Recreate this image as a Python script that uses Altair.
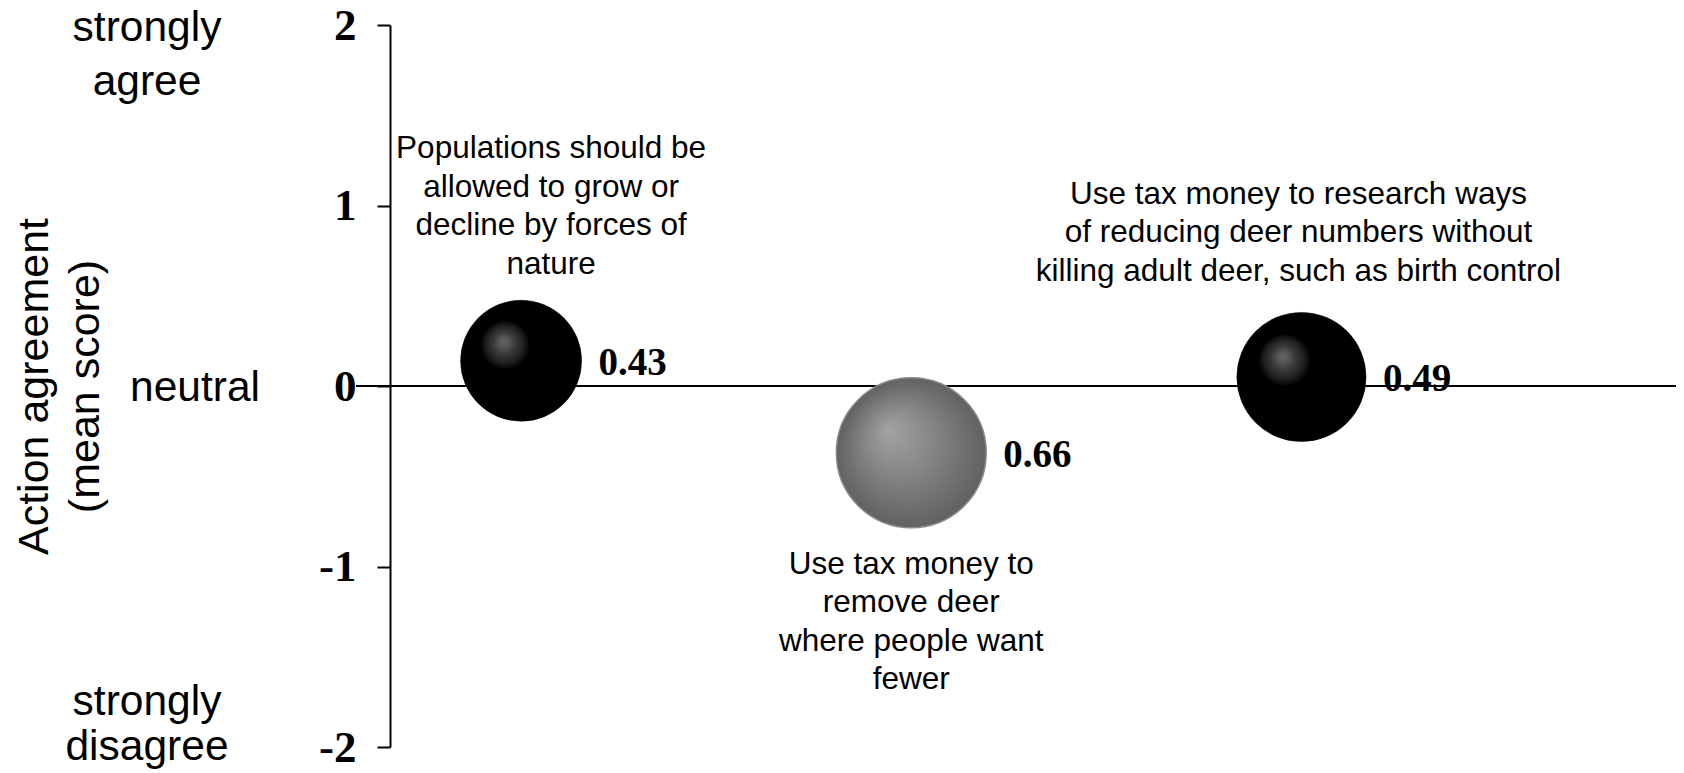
import altair as alt
import pandas as pd

# ---- data ----
actions = [
    "Populations should be\nallowed to grow or\ndecline by forces of\nnature",
    "Use tax money to\nremove deer\nwhere people want\nfewer",
    "Use tax money to research ways\nof reducing deer numbers without\nkilling adult deer, such as birth control",
]
x_order = [1, 2, 3]
mean_score = [0.14, -0.37, 0.05]
bubble_value = [0.43, 0.66, 0.49]
lethal = [False, True, False]

y_ticks = [-2, -1, 0, 1, 2]
scale_top = "strongly\nagree"
scale_mid = "neutral"
scale_bottom = "strongly\ndisagree"
y_title = ["Action agreement", "(mean score)"]

df = pd.DataFrame({
    "action": actions,
    "x": x_order,
    "score": mean_score,
    "bubble": bubble_value,
    "lethal": lethal,
})

W, H = 1286, 722
X_DOMAIN = [0.664, 3.96]
PX_PER_UNIT = W / (X_DOMAIN[1] - X_DOMAIN[0])
SIZE_MAX = 34050  # symbol size for a bubble value of 1 (bubble area proportional to value)

x_scale = alt.Scale(domain=X_DOMAIN, nice=False, zero=False)
y_scale = alt.Scale(domain=[-2, 2], nice=False, zero=False)

y_axis = alt.Axis(
    values=y_ticks,
    labelExpr="'' + datum.value",
    labelFont="Liberation Serif",
    labelFontWeight="bold",
    labelFontSize=45,
    labelColor="black",
    labelPadding=21,
    tickSize=13,
    tickWidth=2,
    tickColor="black",
    domainColor="black",
    domainWidth=2,
    grid=False,
    title=y_title,
    titleFont="Liberation Sans",
    titleFontSize=43,
    titleFontWeight="normal",
    titleColor="black",
    titleLineHeight=51,
    titleAngle=270,
    titleAlign="center",
    titleBaseline="alphabetic",
    titleX=-343,
    titleY=H / 2,
)


def Y(field):
    return alt.Y(field, scale=y_scale, axis=y_axis)


xs = alt.X("x:Q", scale=x_scale, axis=None)
size_enc = alt.Size("bubble:Q", scale=alt.Scale(type="linear", domain=[0, 1], range=[0, SIZE_MAX]), legend=None)

black_grad = {
    "gradient": "radial",
    "x1": 0.355, "y1": 0.34, "r1": 0,
    "x2": 0.37, "y2": 0.37, "r2": 0.2,
    "stops": [
        {"offset": 0, "color": "#646464"},
        {"offset": 0.22, "color": "#555555"},
        {"offset": 0.45, "color": "#3a3a3a"},
        {"offset": 0.75, "color": "#222222"},
        {"offset": 0.95, "color": "#0a0a0a"},
        {"offset": 1, "color": "#000000"},
    ],
}
gray_grad = {
    "gradient": "radial",
    "x1": 0.35, "y1": 0.345, "r1": 0,
    "x2": 0.5, "y2": 0.5, "r2": 0.5,
    "stops": [
        {"offset": 0, "color": "#a3a3a3"},
        {"offset": 0.35, "color": "#8d8d8d"},
        {"offset": 0.7, "color": "#757575"},
        {"offset": 1, "color": "#616161"},
    ],
}

base = alt.Chart(df)

zero_line = alt.Chart(pd.DataFrame({"y0": [0]})).mark_rule(color="black", strokeWidth=2).encode(
    y=Y("y0:Q"),
    x=alt.value(-34),
    x2=alt.value(W),
)

black_bubbles = base.transform_filter("!datum.lethal").mark_circle(
    fill=black_grad, opacity=1, stroke="#000000", strokeWidth=0.5
).encode(x=xs, y=Y("score:Q"), size=size_enc)

gray_bubbles = base.transform_filter("datum.lethal").mark_circle(
    fill=gray_grad, opacity=1, stroke="#8a8a8a", strokeWidth=1.5
).encode(x=xs, y=Y("score:Q"), size=size_enc)

value_labels = base.transform_calculate(
    lx=f"datum.x + (sqrt(datum.bubble * {SIZE_MAX}) / 2 + 17) / {PX_PER_UNIT}"
).mark_text(
    font="Liberation Serif", fontWeight="bold", fontSize=39, color="black",
    align="left", baseline="middle", dy=2,
).encode(
    x=alt.X("lx:Q", scale=x_scale, axis=None),
    y=Y("score:Q"),
    text=alt.Text("bubble:Q", format=".2f"),
)


def annotation(idx, dx, dy):
    return base.transform_filter(alt.datum.x == x_order[idx]).mark_text(
        font="Liberation Sans", fontSize=31.5, lineHeight=38.5, color="black",
        align="center", baseline="middle", lineBreak="\n", dx=dx, dy=dy,
    ).encode(x=xs, y=Y("score:Q"), text="action:N")


ann1 = annotation(0, 30, -211.5)
ann2 = annotation(1, 0, 112)
ann3 = annotation(2, -3, -182)


def scale_label(anchor, text, xpx, dy, lh):
    return alt.Chart(pd.DataFrame({"anchor": [anchor], "label": [text]})).mark_text(
        font="Liberation Sans", fontSize=42.5, lineHeight=lh, color="black",
        align="center", baseline="middle", lineBreak="\n", dy=dy,
    ).encode(
        x=alt.value(xpx),
        y=Y("anchor:Q"),
        text="label:N",
    )


lab_top = scale_label(2, scale_top, -243, 3, 54)
lab_mid = scale_label(0, scale_mid, -195, 2, 54)
lab_bot = scale_label(-2, scale_bottom, -243, -45, 45)

chart = alt.layer(
    zero_line, black_bubbles, gray_bubbles, value_labels,
    ann1, ann2, ann3, lab_top, lab_mid, lab_bot,
).properties(
    width=W, height=H,
    autosize=alt.AutoSizeParams(type="none"),
    padding={"left": 382, "top": 17, "right": 0, "bottom": 26},
    background="white",
).configure_view(stroke=None)

chart.save("out.html", embed_options={"renderer": "svg", "actions": False})
